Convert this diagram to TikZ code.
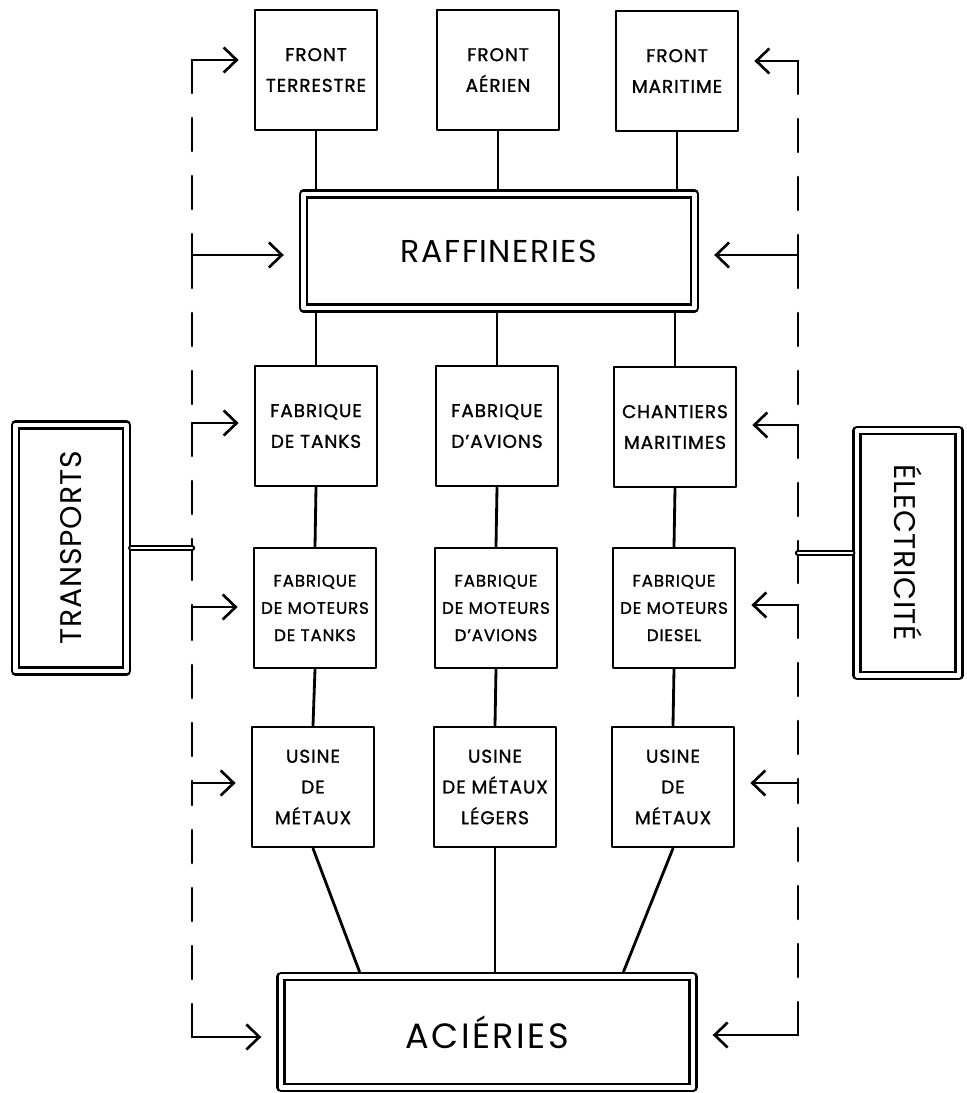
\documentclass[tikz,border=0pt]{standalone}
\usepackage{fontspec}
\setmainfont{Poppins}
\usetikzlibrary{arrows.meta}

\tikzset{
  box/.style={draw, line width=1.6pt, minimum width=2.44cm, minimum height=2.4cm,
    align=center, inner sep=0pt,
    font=\fontsize{10.5}{17.5}\selectfont\addfontfeatures{LetterSpace=5, FakeBold=1.2}},
  smallbox/.style={box,
    font=\fontsize{9.5}{15.5}\selectfont\addfontfeatures{LetterSpace=5, FakeBold=1.2}},
  dbox/.style={draw, double, double distance=0.09cm, line width=1.4pt, outer sep=2.7pt,
    align=center, inner sep=0pt},
  link/.style={line width=1.6pt},
  bus/.style={line width=1.5pt, dash pattern=on 0.66cm off 0.5cm},
  feed/.style={line width=1.5pt, -{Straight Barb[length=0.26cm, width=0.5cm]}, shorten >=0.3cm},
  tie/.style={double, double distance=0.05cm, line width=1.1pt}
}

\begin{document}
\begin{tikzpicture}[x=0.02cm, y=-0.02cm, line join=round, line cap=round]
  \useasboundingbox (0,0) rectangle (967,1093);
  % les fronts
  \node[box] (ft) at (316,70) {FRONT\\TERRESTRE};
  \node[box] (fa) at (498,70) {FRONT\\AÉRIEN};
  \node[box] (fm) at (677,71) {FRONT\\MARITIME};
  % raffineries
  \node[dbox, minimum width=7.82cm, minimum height=2.28cm,
    font=\fontsize{18}{18}\selectfont\addfontfeatures{LetterSpace=5}] (raf) at (499,251) {RAFFINERIES};
  % fabriques
  \node[box] (tanks) at (316,426) {FABRIQUE\\DE TANKS};
  \node[box] (avions) at (497,426) {FABRIQUE\\D'AVIONS};
  \node[box] (chant) at (675,427) {CHANTIERS\\MARITIMES};
  % moteurs
  \node[smallbox] (mtanks) at (315,608) {FABRIQUE\\DE MOTEURS\\DE TANKS};
  \node[smallbox] (mavions) at (496,608) {FABRIQUE\\DE MOTEURS\\D'AVIONS};
  \node[smallbox] (diesel) at (674,608) {FABRIQUE\\DE MOTEURS\\DIESEL};
  % usines
  \node[box] (met1) at (313,787) {USINE\\DE\\MÉTAUX};
  \node[box] (legers) at (495,787) {USINE\\DE MÉTAUX\\LÉGERS};
  \node[box] (met3) at (673,787) {USINE\\DE\\MÉTAUX};
  % acieries
  \node[dbox, minimum width=8.24cm, minimum height=2.22cm,
    font=\fontsize{20}{20}\selectfont\addfontfeatures{LetterSpace=7}] (acier) at (487,1032) {ACIÉRIES};
  % transports et electricite
  \node[dbox, rotate=90, minimum width=4.92cm, minimum height=2.22cm,
    font=\fontsize{17}{17}\selectfont\addfontfeatures{LetterSpace=3}] (transp) at (71,548) {TRANSPORTS};
  \node[dbox, rotate=-90, minimum width=4.9cm, minimum height=2.04cm,
    font=\fontsize{17}{17}\selectfont\addfontfeatures{LetterSpace=2}] (elec) at (908,553) {ÉLECTRICITÉ};

  % lignes verticales
  \foreach \a in {ft, fa, fm}
    \draw[link] (\a.south) -- (\a.south |- raf.north);
  \foreach \b in {tanks, avions, chant}
    \draw[link] (raf.south -| \b.north) -- (\b.north);
  \foreach \a/\b in {tanks/mtanks, avions/mavions, chant/diesel, mtanks/met1, mavions/legers, diesel/met3}
    \draw[link] (\a.south) -- (\b.north);
  \draw[link] (met1.south) -- ([xshift=-2.55cm]acier.north);
  \draw[link] (legers.south) -- (legers.south |- acier.north);
  \draw[link] (met3.south) -- ([xshift=2.73cm]acier.north);

  % lignes pointillees
  \foreach \n/\y in {1/60, 2/255, 3/423, 4/547, 5/607, 6/783, 7/1037}
    \coordinate (l\n) at (192,\y);
  \foreach \n/\y in {1/61, 2/255, 3/425, 4/550, 5/605, 6/783, 7/1035}
    \coordinate (r\n) at (798,\y);
  \foreach \a/\b in {1/2, 2/3, 3/4, 4/5, 5/6, 7/6} {
    \draw[bus] (l\a) -- (l\b);
    \draw[bus] (r\a) -- (r\b);
  }

  % fleches
  \draw[feed] (l1) -- (l1 -| ft.west);
  \draw[feed] (l2) -- (l2 -| raf.west);
  \draw[feed] (l3) -- (l3 -| tanks.west);
  \draw[feed] (l5) -- (l5 -| mtanks.west);
  \draw[feed] (l6) -- (l6 -| met1.west);
  \draw[feed] (l7) -- (l7 -| acier.west);
  \draw[feed] (r1) -- (r1 -| fm.east);
  \draw[feed] (r2) -- (r2 -| raf.east);
  \draw[feed] (r3) -- (r3 -| chant.east);
  \draw[feed] (r5) -- (r5 -| diesel.east);
  \draw[feed] (r6) -- (r6 -| met3.east);
  \draw[feed] (r7) -- (r7 -| acier.east);

  % liaisons doubles
  \draw[tie] (transp.south) -- (transp.south -| l4);
  \draw[tie] (elec.south) -- (elec.south -| r4);
\end{tikzpicture}
\end{document}
